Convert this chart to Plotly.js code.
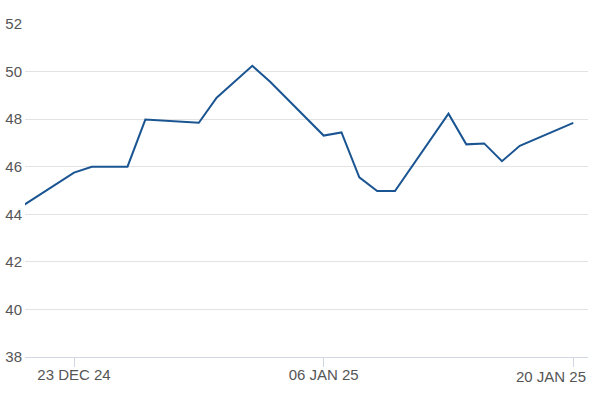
<!DOCTYPE html>
<html>
<head>
<meta charset="utf-8">
<script src="https://cdn.plot.ly/plotly-3.0.1.min.js"></script>
<style>html,body{margin:0;padding:0;background:#fff;}#chart{width:600px;height:400px;}</style>
</head>
<body>
<div id="chart"></div>
<script>
const dates = ["2024-12-20","2024-12-23","2024-12-24","2024-12-26","2024-12-27","2024-12-30","2024-12-31",
  "2025-01-02","2025-01-03","2025-01-06","2025-01-07","2025-01-08","2025-01-09","2025-01-10",
  "2025-01-13","2025-01-14","2025-01-15","2025-01-16","2025-01-17","2025-01-20"];
const values = [44.3,45.75,46.0,46.0,47.98,47.85,48.9,50.24,49.57,47.31,47.44,45.55,44.98,44.98,
  48.23,46.94,46.98,46.23,46.88,47.84];
const xTickVals = ["2024-12-23","2025-01-06","2025-01-20"];
const xTickText = ["23 DEC 24","06 JAN 25","20 JAN 25"];
const yTickVals = [38,40,42,44,46,48,50,52];

const trace = {
  x: dates, y: values, type: "scatter", mode: "lines",
  line: {color: "#1a5592", width: 2}, hoverinfo: "x+y"
};
// last tick label is pushed left to stay inside the chart, as in the reference
const lastIdx = xTickText.length - 1;
const shownTickText = xTickText.map((t, i) => i === lastIdx ? "" : t);
const layout = {
  width: 600, height: 400,
  margin: {l: 25, r: 12, t: 24, b: 43},
  paper_bgcolor: "#fff", plot_bgcolor: "#fff",
  showlegend: false,
  font: {family: "Liberation Sans, Arial, sans-serif", size: 15, color: "#555"},
  xaxis: {
    type: "date",
    range: ["2024-12-20 06:03", "2025-01-20 19:47"],
    tickmode: "array", tickvals: xTickVals, ticktext: shownTickText,
    showgrid: false, zeroline: false,
    showline: true, linecolor: "#cfd8e1", linewidth: 1,
    ticks: "outside", ticklen: 9, tickcolor: "#cfd8e1", tickwidth: 1,
    ticklabelstandoff: -5
  },
  yaxis: {
    range: [38, 52],
    tickmode: "array", tickvals: yTickVals,
    showgrid: true, gridcolor: "#e3e3e3", gridwidth: 1,
    zeroline: false, showline: false, ticks: "",
    ticklabelstandoff: 2
  },
  annotations: [{
    x: xTickVals[lastIdx], xref: "x", y: 0, yref: "paper",
    text: xTickText[lastIdx], showarrow: false,
    xanchor: "right", yanchor: "top", xshift: 15, yshift: -9,
    font: {family: "Liberation Sans, Arial, sans-serif", size: 15, color: "#555"}
  }]
};
Plotly.newPlot("chart", [trace], layout, {displayModeBar: false, staticPlot: true});
</script>
</body>
</html>
